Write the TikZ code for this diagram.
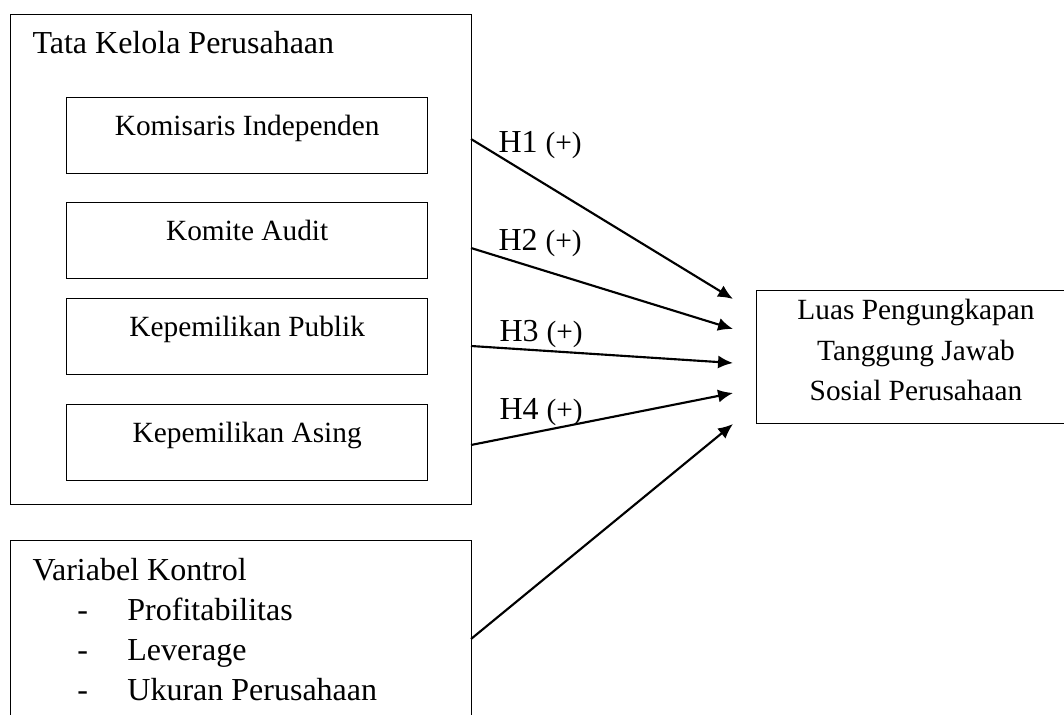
\documentclass[tikz,border=0pt]{standalone}
\usepackage{fontspec}
\setmainfont{Liberation Serif}
\usetikzlibrary{arrows.meta}
\newcommand{\vkitem}[1]{\makebox[35.6pt][l]{\hspace*{16.8pt}-}#1}
\begin{document}
\begin{tikzpicture}[x=0.375pt, y=-0.375pt,
  every node/.style={inner sep=0pt, font=\fontsize{12}{15}\selectfont},
  box/.style={draw, line width=0.5pt},
  var/.style={box, anchor=north west, minimum width=135.4pt, text height=14.25pt, text depth=14.25pt, font=\fontsize{11}{13}\selectfont},
  arr/.style={-{Latex[length=5.6pt, width=4.9pt]}, line width=0.8pt},
  hyp/.style={anchor=base west}]
  \useasboundingbox (0,0) rectangle (1064,715);
  \clip (0,0) rectangle (1064,715);
  % tata kelola perusahaan
  \node[box, anchor=north west, minimum width=172.9pt, minimum height=183.75pt] (tk) at (10,14) {};
  \node[anchor=base west] (tkt) at (32,54) {Tata Kelola Perusahaan};
  \node[var] (ki) at (66,97) {Komisaris Independen};
  \node[var] (ka) at (66,202) {Komite Audit};
  \node[var] (kp) at (66,298) {Kepemilikan Publik};
  \node[var] (kas) at (66,404) {Kepemilikan Asing};
  % dependent variable
  \node[box, anchor=north west, minimum width=120pt, minimum height=49.9pt] (lpt) at (756,290) {};
  \node[anchor=base, align=center, font=\fontsize{11}{15.2}\selectfont] (lptt) at (916,401) {Luas Pengungkapan\\Tanggung Jawab\\Sosial Perusahaan};
  % control variables
  \node[box, anchor=north west, minimum width=172.9pt, minimum height=90pt] (vk) at (10,540) {};
  \node[anchor=base west, align=left] (vkt) at (32,700) {Variabel Kontrol\\\vkitem{Profitabilitas}\\\vkitem{Leverage}\\\vkitem{Ukuran Perusahaan}};
  % arrows
  \coordinate (a1) at (471,139); \coordinate (b1) at (733,299);
  \coordinate (a2) at (471,248); \coordinate (b2) at (733,329);
  \coordinate (a3) at (471,346); \coordinate (b3) at (733,363);
  \coordinate (a4) at (471,445); \coordinate (b4) at (733,393);
  \coordinate (a5) at (471,639); \coordinate (b5) at (733,424);
  \draw[arr] (a1) -- (b1);
  \draw[arr] (a2) -- (b2);
  \draw[arr] (a3) -- (b3);
  \draw[arr] (a4) -- (b4);
  \draw[arr] (a5) -- (b5);
  \node[hyp] (h1) at (498,153) {H1 {\fontsize{11}{13}\selectfont(+)}};
  \node[hyp] (h2) at (498,251) {H2 {\fontsize{11}{13}\selectfont(+)}};
  \node[hyp] (h3) at (499,342) {H3 {\fontsize{11}{13}\selectfont(+)}};
  \node[hyp] (h4) at (499,420) {H4 {\fontsize{11}{13}\selectfont(+)}};
\end{tikzpicture}
\end{document}
